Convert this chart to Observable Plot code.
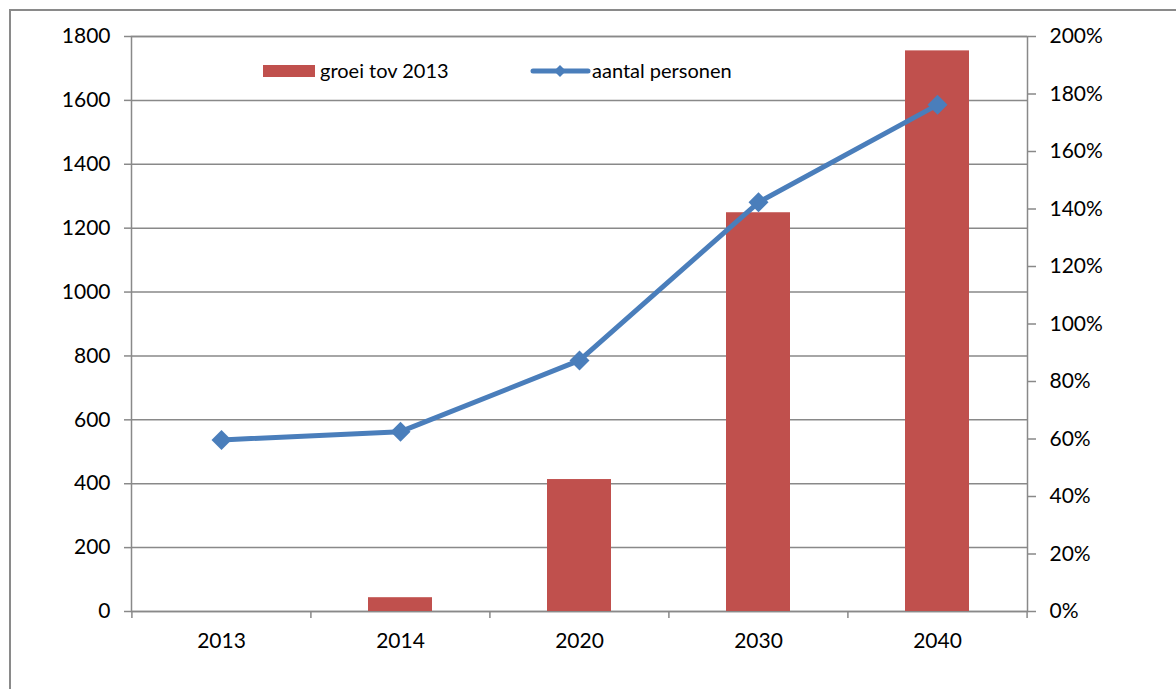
<!DOCTYPE html>
<html><head><meta charset="utf-8">
<script src="https://cdn.jsdelivr.net/npm/d3@7"></script>
<script src="https://cdn.jsdelivr.net/npm/@observablehq/plot@0.6"></script>
<style>
body{margin:0;background:#fff;font-family:Lato,"Open Sans",sans-serif;}
#wrap{position:relative;width:1176px;height:689px;overflow:hidden;background:#fff;}
#border{position:absolute;left:9px;top:9px;width:1300px;height:800px;border-left:2px solid #8a8a8a;border-top:2px solid #8a8a8a;pointer-events:none;}
#chart{position:absolute;left:0;top:0;}
.leg{position:absolute;font-size:20px;color:#000;line-height:20px;white-space:nowrap;}
</style>
</head><body>
<div id="wrap">
  <div id="chart"></div>
  <div id="border"></div>
  <div id="legend"></div>
</div>
<script>
const years = ["2013", "2014", "2020", "2030", "2040"];
const persons = [537, 563, 786, 1281, 1586];
const growthPct = [0, 4.8, 45.9, 138.7, 195.0];
const leftTicks = [0, 200, 400, 600, 800, 1000, 1200, 1400, 1600, 1800];
const rightTicks = [0, 20, 40, 60, 80, 100, 120, 140, 160, 180, 200];
const seriesNames = ["groei tov 2013", "aantal personen"];

const barColor = "#C0504D";
const lineColor = "#4A7EBB";
const gridColor = "#898989";

// secondary (percent) axis mapped onto the primary scale
const pct = d3.scaleLinear([0, 200], [0, 1800]);

const rows = years.map((y, i) => ({year: y, persons: persons[i], growth: growthPct[i]}));

const lastYear = years[years.length - 1];
const W = 1176, H = 689;
const mL = 131, mR = 149, mT = 36, mB = 78;
const step = (W - mL - mR) / years.length;

const plot = Plot.plot({
  width: W,
  height: H,
  marginLeft: mL,
  marginRight: mR,
  marginTop: mT,
  marginBottom: mB,
  style: {fontFamily: "Lato, 'Open Sans', sans-serif", fontSize: "21px", color: "#000", background: "#fff", overflow: "visible"},
  x: {type: "band", domain: years, paddingInner: 0.645, paddingOuter: 0.3225, label: null},
  y: {domain: [0, 1800], label: null},
  marks: [
    Plot.gridY(leftTicks, {stroke: gridColor, strokeOpacity: 1, strokeWidth: 1.5}),
    Plot.frame({stroke: gridColor, strokeWidth: 1.5}),
    Plot.barY(rows, {x: "year", y: d => pct(d.growth), fill: barColor}),
    Plot.line(rows, {x: "year", y: "persons", stroke: lineColor, strokeWidth: 5, strokeLinejoin: "round"}),
    Plot.dot(rows, {x: "year", y: "persons", symbol: "diamond2", r: 9, fill: lineColor, stroke: null}),
    Plot.axisY(leftTicks, {anchor: "left", tickSize: 7, tickPadding: 14, stroke: gridColor, strokeWidth: 1.5, label: null, fill: "#000",
      tickFormat: d => String(d)}),
    Plot.axisY(rightTicks.map(pct), {anchor: "right", tickSize: 8, tickPadding: 14, stroke: gridColor, strokeWidth: 1.5, label: null, fill: "#000",
      tickFormat: d => Math.round(pct.invert(d)) + "%"}),
    Plot.axisX(years, {anchor: "bottom", tickSize: 0, tickPadding: 22, label: null, fill: "#000"}),
    Plot.axisX(years, {anchor: "bottom", tickSize: 7, text: null, dx: -step / 2, stroke: gridColor, strokeWidth: 1.5, label: null}),
    Plot.axisX([lastYear], {anchor: "bottom", tickSize: 7, text: null, dx: step / 2, stroke: gridColor, strokeWidth: 1.5, label: null})
  ]
});
document.getElementById("chart").appendChild(plot);

// legend (inside the plot area, top)
const leg = document.getElementById("legend");
leg.innerHTML = `
  <div style="position:absolute;left:263px;top:65px;width:52px;height:12px;background:${barColor}"></div>
  <div class="leg" style="left:320px;top:60px">${seriesNames[0]}</div>
  <svg style="position:absolute;left:530px;top:61px" width="62" height="20">
    <line x1="3" x2="58" y1="10" y2="10" stroke="${lineColor}" stroke-width="5" stroke-linecap="round"/>
    <path d="M30,4 L36,10 L30,16 L24,10 Z" fill="${lineColor}"/>
  </svg>
  <div class="leg" style="left:592px;top:60px">${seriesNames[1]}</div>
`;
</script>
</body></html>
